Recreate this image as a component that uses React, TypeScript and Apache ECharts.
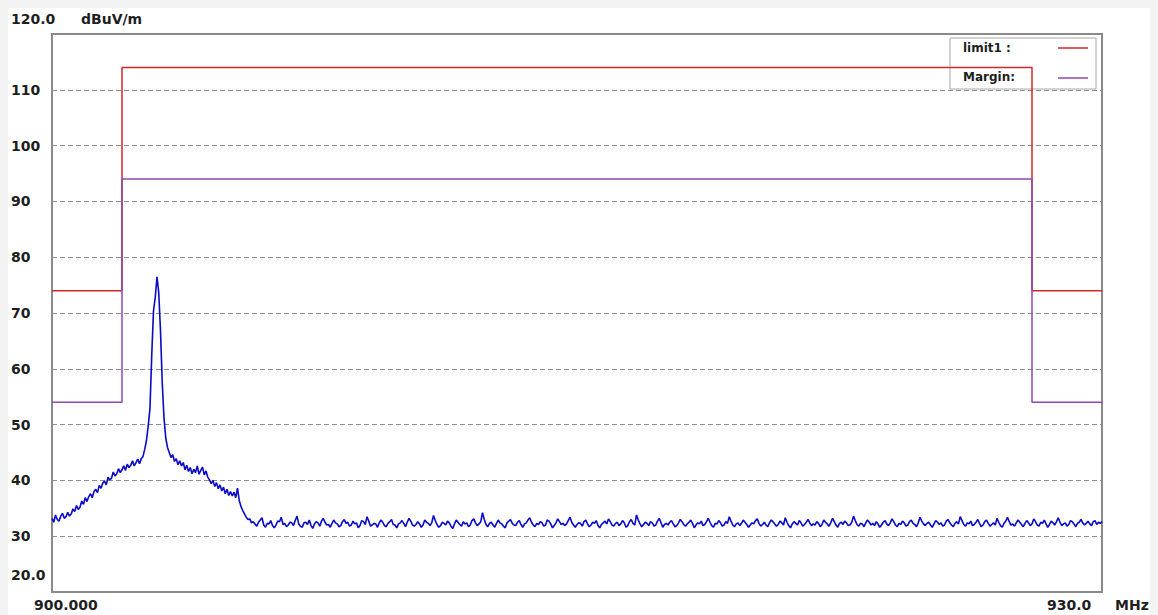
import React, { useEffect, useRef } from "react";
import * as echarts from "echarts";

// Receiver sweep: 900–930 MHz, one reading every 50 kHz
const SWEEP_START_MHZ = 900;
const SWEEP_STEP_MHZ = 0.05;

// 900.00 – 902.55 MHz: skirt rising towards the carrier
const RISE_LEVELS = [
  33.2, 32.5, 33.8, 33.0, 32.7, 33.6, 34.1, 33.2, 33.5, 34.3,
  33.6, 34.0, 34.9, 34.4, 35.5, 34.8, 35.2, 36.3, 35.7, 36.9,
  36.2, 37.1, 37.6, 36.9, 38.0, 38.4, 37.8, 39.1, 38.6, 39.5,
  39.9, 39.2, 40.6, 40.1, 40.4, 41.5, 40.8, 41.2, 42.1, 41.4,
  41.9, 42.6, 41.8, 42.9, 42.3, 42.7, 43.5, 42.6, 43.2, 43.8,
  43.0, 43.9,
];

// 902.60 – 903.30 MHz: carrier
const PEAK_LEVELS = [
  44.3, 45.6, 47.2, 49.8, 53.0, 62.5, 70.4, 72.8, 76.5, 73.6,
  66.8, 57.4, 51.2, 47.6, 45.9,
];

// 903.35 – 905.60 MHz: falling skirt
const SKIRT_LEVELS = [
  45.0, 44.1, 44.6, 43.4, 43.9, 42.8, 43.5, 42.6, 43.2, 41.9,
  42.7, 41.6, 42.3, 41.2, 42.0, 41.4, 42.6, 41.1, 41.8, 42.4,
  41.0, 41.7, 40.6, 40.1, 39.4, 40.0, 38.9, 39.6, 38.5, 39.2,
  38.1, 38.8, 37.6, 38.4, 37.3, 38.0, 37.2, 37.9, 36.9, 38.6,
  36.4, 35.3, 34.6, 34.0, 33.4, 33.0,
];

// 905.65 – 930.00 MHz: noise floor
const FLOOR_LEVELS = [
  33.1, 32.4, 32.6, 32.2, 31.8, 32.5, 32.9, 33.3, 32.0, 31.6, 32.3, 32.2, 32.8, 31.9, 31.5, 32.0, 32.7, 32.6, 33.4, 32.1,
  32.3, 31.7, 32.0, 32.5, 32.4, 31.9, 32.8, 33.6, 32.2, 31.8, 31.6, 32.4, 32.5, 32.1, 32.9, 31.9, 31.4, 32.2, 32.6, 32.4,
  31.8, 32.7, 33.2, 32.5, 32.0, 32.1, 31.6, 32.3, 32.9, 32.4, 32.2, 31.7, 31.9, 32.6, 33.0, 32.3, 32.5, 31.8, 32.0, 32.7,
  32.2, 32.4, 31.5, 31.9, 32.8, 32.6, 32.1, 33.5, 32.7, 31.8, 32.0, 32.3, 32.2, 31.6, 32.4, 32.9, 32.5, 31.9, 31.7, 32.3,
  32.6, 33.0, 32.1, 32.0, 31.5, 32.2, 32.4, 32.8, 32.3, 31.7, 32.5, 33.2, 32.7, 32.0, 31.8, 32.1, 32.6, 32.2, 31.6, 32.0,
  32.9, 32.5, 32.3, 31.9, 32.4, 33.7, 32.8, 32.1, 31.6, 31.9, 32.5, 32.3, 32.0, 32.7, 32.4, 31.8, 31.4, 32.2, 32.9, 32.5,
  32.1, 31.8, 32.6, 32.2, 32.4, 31.7, 32.0, 32.8, 33.1, 32.4, 31.9, 32.2, 32.6, 34.2, 33.0, 32.1, 31.7, 32.3, 32.5, 32.0,
  31.6, 32.3, 32.9, 32.4, 32.2, 31.8, 31.5, 32.4, 32.7, 33.0, 32.3, 32.0, 31.9, 32.5, 32.8, 32.1, 31.6, 32.2, 32.4, 32.9,
  33.3, 32.5, 32.0, 31.7, 32.3, 32.1, 32.6, 32.4, 31.8, 32.0, 32.9, 32.7, 32.2, 31.5, 31.9, 32.4, 33.1, 32.6, 32.1, 32.3,
  31.9, 32.2, 32.8, 33.4, 32.5, 32.0, 31.6, 32.1, 32.4, 32.3, 31.8, 32.6, 32.9, 32.2, 31.7, 32.0, 32.5, 32.3, 32.8, 31.9,
  31.5, 32.1, 32.4, 32.7, 32.2, 33.1, 32.6, 32.0, 31.8, 32.3, 32.5, 31.9, 32.2, 32.8, 32.4, 31.6, 31.9, 32.6, 33.0, 32.3,
  32.0, 33.8, 32.9, 32.2, 31.7, 32.1, 32.5, 32.3, 31.9, 32.6, 32.4, 31.8, 32.0, 32.7, 33.2, 32.4, 31.6, 32.1, 32.3, 32.0,
  32.5, 32.8, 32.2, 31.7, 31.9, 32.4, 33.0, 32.6, 32.1, 31.8, 32.2, 32.5, 32.9, 32.3, 31.5, 32.0, 32.4, 32.2, 32.7, 31.9,
  32.1, 32.6, 33.2, 32.5, 31.9, 31.6, 32.3, 32.2, 32.8, 32.4, 31.8, 32.0, 32.6, 32.3, 33.5, 32.7, 32.0, 31.7, 32.2, 32.4,
  31.9, 32.3, 32.9, 32.5, 32.1, 31.6, 32.0, 32.4, 32.2, 32.8, 33.1, 32.3, 31.8, 32.1, 32.5, 32.0, 31.7, 32.4, 32.9, 32.6,
  32.2, 31.8, 32.1, 32.7, 32.4, 32.0, 33.3, 32.5, 31.9, 31.5, 32.2, 32.6, 32.3, 32.0, 32.8, 32.4, 31.8, 32.1, 32.5, 33.0,
  32.4, 31.9, 32.2, 32.0, 32.6, 32.3, 31.7, 32.1, 32.9, 32.5, 32.2, 31.8, 32.4, 33.2, 32.6, 32.0, 31.6, 32.3, 32.5, 32.1,
  32.7, 32.4, 31.9, 32.0, 32.5, 33.6, 32.8, 32.1, 31.8, 32.3, 32.2, 31.7, 32.4, 32.9, 32.5, 32.0, 32.3, 31.9, 32.6, 32.2,
  31.6, 32.0, 32.5, 32.8, 32.2, 31.9, 32.4, 33.1, 32.6, 32.0, 31.7, 32.3, 32.1, 32.7, 32.4, 31.8, 32.0, 32.6, 32.9, 32.3,
  32.1, 31.7, 32.4, 33.4, 32.7, 32.2, 31.9, 32.3, 32.5, 32.0, 31.6, 32.2, 32.8, 32.5, 32.1, 32.4, 31.8, 32.0, 32.7, 33.0,
  32.4, 32.0, 31.7, 32.3, 32.6, 32.2, 33.5, 32.8, 32.1, 31.8, 32.4, 32.2, 32.7, 31.9, 32.1, 32.5, 33.0, 32.3, 31.7, 32.0,
  32.6, 32.9, 32.3, 31.8, 32.1, 32.4, 32.0, 33.2, 32.5, 31.9, 31.6, 32.3, 32.7, 33.4, 32.6, 32.0, 32.2, 31.8, 32.4, 32.9,
  32.5, 32.1, 31.7, 32.3, 32.8, 32.4, 31.9, 32.2, 33.1, 32.6, 32.0, 31.8, 32.5, 32.3, 32.9, 32.2, 31.6, 32.1, 32.7, 32.4,
  32.0, 32.6, 33.3, 32.5, 31.9, 32.2, 32.4, 31.8, 32.1, 32.8, 32.6, 32.2, 31.7, 32.3, 32.5, 33.0, 32.4, 32.0, 32.3, 32.7,
  32.2, 31.9, 32.6, 32.8, 32.1, 32.5, 32.3, 32.6,
];

// Limit line and margin (limit − 20 dB) breakpoints
const LIMIT_FREQS = [900, 902, 902, 928, 928, 930];
const LIMIT1_LEVELS = [74, 74, 114, 114, 74, 74];
const MARGIN_LEVELS = [54, 54, 94, 94, 54, 54];

// Axis range
const Y_MIN = 20;
const Y_MAX = 120;
const Y_STEP = 10;
const X_MIN = 900;
const X_MAX = 930;

const FONT = "'DejaVu Sans', 'Liberation Sans', sans-serif";
const LIMIT_COLOR = "#d02828";
const MARGIN_COLOR = "#9048b0";
const TRACE_COLOR = "#0a0ac8";

function buildTrace(): [number, number][] {
  const levels = [...RISE_LEVELS, ...PEAK_LEVELS, ...SKIRT_LEVELS, ...FLOOR_LEVELS];
  return levels.map((v, i) => [+(SWEEP_START_MHZ + i * SWEEP_STEP_MHZ).toFixed(2), v]);
}

function pairs(xs: number[], ys: number[]): [number, number][] {
  return xs.map((x, i) => [x, ys[i]]);
}

function label(text: string, x: number, y: number, size = 14) {
  return {
    type: "text",
    x,
    y,
    silent: true,
    style: {
      text,
      fill: "#1e1e1e",
      font: `bold ${size}px ${FONT}`,
      align: "left",
      verticalAlign: "middle",
    },
  };
}

export default function App() {
  const ref = useRef<HTMLDivElement>(null);

  useEffect(() => {
    if (!ref.current) return;
    const chart = echarts.init(ref.current, null, { renderer: "svg" });

    chart.setOption({
      animation: false,
      backgroundColor: "#f3f3f3",
      grid: {
        left: 52,
        top: 34,
        right: 56,
        bottom: 23,
        show: true,
        backgroundColor: "#ffffff",
        borderColor: "#8a8a8a",
        borderWidth: 2,
      },
      xAxis: {
        type: "value",
        min: X_MIN,
        max: X_MAX,
        axisLine: { show: false },
        axisTick: { show: false },
        axisLabel: { show: false },
        splitLine: { show: false },
      },
      yAxis: {
        type: "value",
        min: Y_MIN,
        max: Y_MAX,
        interval: Y_STEP,
        axisLine: { show: false },
        axisTick: { show: false },
        axisLabel: {
          formatter: (v: number) => (v === Y_MIN || v === Y_MAX ? "" : String(v)),
          align: "left",
          margin: 41,
          color: "#1e1e1e",
          fontFamily: FONT,
          fontWeight: "bold",
          fontSize: 14,
        },
        splitLine: {
          lineStyle: { color: "#8c8c8c", width: 1, type: [5, 3] },
        },
      },
      graphic: [
        {
          type: "rect",
          z: -10,
          silent: true,
          shape: { x: 8, y: 8, width: 1142, height: 607 },
          style: { fill: "#ffffff" },
        },
        label("120.0", 11, 19),
        label("dBuV/m", 81, 19),
        label("20.0", 11, 575),
        label("900.000", 34, 605),
        label("930.0", 1047, 605),
        label("MHz", 1115, 605),
        {
          type: "group",
          z: 100,
          children: [
            {
              type: "rect",
              silent: true,
              shape: { x: 950, y: 38, width: 146, height: 51 },
              style: { fill: "#ffffff", stroke: "#a8a8a8", lineWidth: 1 },
            },
            label("limit1 :", 963, 48, 12),
            label("Margin:", 963, 77, 12),
            {
              type: "line",
              silent: true,
              shape: { x1: 1058, y1: 48, x2: 1088, y2: 48 },
              style: { stroke: LIMIT_COLOR, lineWidth: 1.5 },
            },
            {
              type: "line",
              silent: true,
              shape: { x1: 1058, y1: 78, x2: 1088, y2: 78 },
              style: { stroke: MARGIN_COLOR, lineWidth: 1.5 },
            },
          ],
        },
      ],
      series: [
        {
          name: "limit1",
          type: "line",
          data: pairs(LIMIT_FREQS, LIMIT1_LEVELS),
          showSymbol: false,
          lineStyle: { color: LIMIT_COLOR, width: 1.5 },
          z: 2,
        },
        {
          name: "Margin",
          type: "line",
          data: pairs(LIMIT_FREQS, MARGIN_LEVELS),
          showSymbol: false,
          lineStyle: { color: MARGIN_COLOR, width: 1.5 },
          z: 3,
        },
        {
          name: "Level",
          type: "line",
          data: buildTrace(),
          showSymbol: false,
          lineStyle: { color: TRACE_COLOR, width: 1.6 },
          z: 4,
        },
      ],
    });

    return () => chart.dispose();
  }, []);

  return (
    <div
      ref={ref}
      style={{ position: "fixed", left: 0, top: 0, width: 1158, height: 615 }}
    />
  );
}
